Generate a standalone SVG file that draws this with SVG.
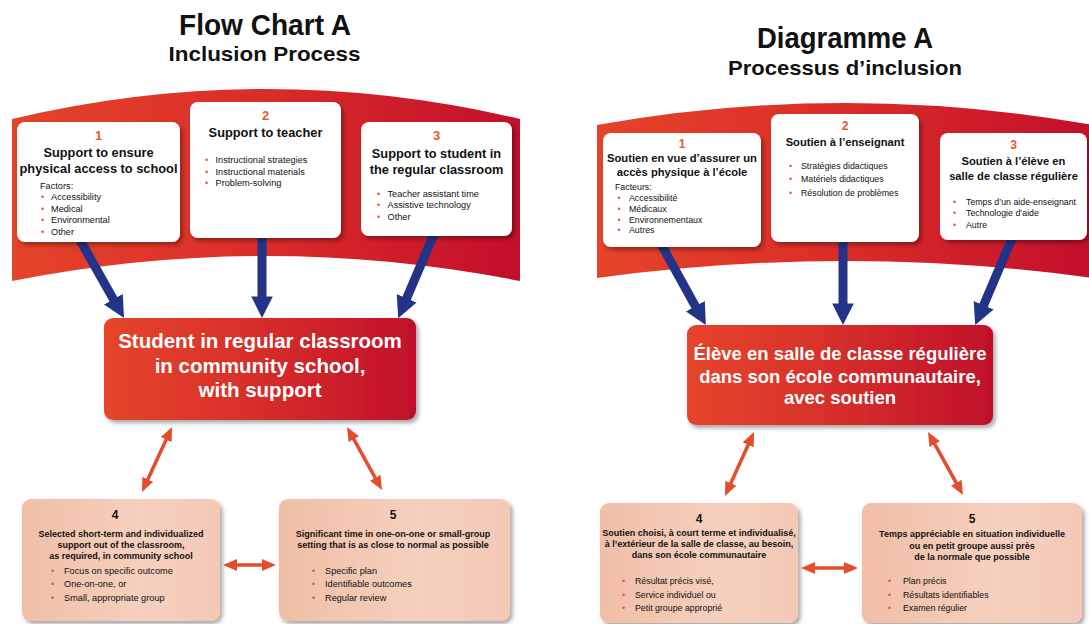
<svg xmlns="http://www.w3.org/2000/svg" width="1089" height="624" viewBox="0 0 1089 624">
<defs>
  <linearGradient id="bandGrad" x1="0" y1="0" x2="1" y2="0">
    <stop offset="0" stop-color="#e5432a"/>
    <stop offset="0.5" stop-color="#da2c28"/>
    <stop offset="1" stop-color="#c20f2b"/>
  </linearGradient>
  <linearGradient id="centerGrad" x1="0" y1="0" x2="1" y2="0">
    <stop offset="0" stop-color="#e6452b"/>
    <stop offset="0.55" stop-color="#d42b29"/>
    <stop offset="1" stop-color="#c1102c"/>
  </linearGradient>
  <linearGradient id="peachGrad" x1="0" y1="0" x2="1" y2="0">
    <stop offset="0" stop-color="#f0bea6"/>
    <stop offset="0.6" stop-color="#f6d0bf"/>
    <stop offset="1" stop-color="#f3c9b6"/>
  </linearGradient>
  <filter id="shadow" x="-10%" y="-10%" width="125%" height="130%">
    <feDropShadow dx="2.5" dy="3" stdDeviation="2" flood-color="#000" flood-opacity="0.35"/>
  </filter>
  <marker id="blueHead" viewBox="0 0 10 10" refX="4.44" refY="5" markerWidth="2.4" markerHeight="2.4" orient="auto">
    <path d="M0,0 L10,5 L0,10 z" fill="#233488"/>
  </marker>
  <marker id="orangeHead" viewBox="0 0 14 12" refX="8" refY="6" markerUnits="userSpaceOnUse" markerWidth="14" markerHeight="12" orient="auto-start-reverse">
    <path d="M0,0 L14,6 L0,12 z" fill="#e44d2b"/>
  </marker>
</defs>
<style>
  text { font-family: "Liberation Sans", Arial, sans-serif; fill: #111; }
  .title { font-weight: bold; text-anchor: middle; }
  .num { font-weight: bold; text-anchor: middle; fill: #e8562a; font-size: 13px; }
  .numr { font-weight: bold; text-anchor: middle; fill: #e8562a; font-size: 12px; }
  .hd { font-weight: bold; text-anchor: middle; font-size: 12.8px; }
  .hdr { font-weight: bold; text-anchor: middle; font-size: 11.2px; }
  .sm { font-size: 9.2px; }
  .smr { font-size: 8.8px; }
  .bl { fill: #e05a30; }
  .ctr { font-weight: bold; text-anchor: middle; fill: #fff; }
  .bn { font-weight: bold; text-anchor: middle; font-size: 12px; }
  .bh { font-weight: bold; text-anchor: middle; font-size: 9px; }
  .box { fill: #fff; filter: url(#shadow); }
  .cbox { fill: url(#centerGrad); filter: url(#shadow); }
  .pbox { fill: url(#peachGrad); filter: url(#shadow); }
  .band { fill: url(#bandGrad); }
  .blue { stroke: #233488; stroke-width: 9; fill: none; marker-end: url(#blueHead); }
  .orange { stroke: #e44d2b; stroke-width: 3.5; fill: none; marker-start: url(#orangeHead); marker-end: url(#orangeHead); }
</style>

<g id="titles">
  <text class="title" x="265" y="35" font-size="29" textLength="172" lengthAdjust="spacingAndGlyphs">Flow Chart A</text>
  <text class="title" x="264.5" y="61" font-size="21" textLength="192" lengthAdjust="spacingAndGlyphs">Inclusion Process</text>
  <text class="title" x="845" y="48" font-size="29" textLength="176" lengthAdjust="spacingAndGlyphs">Diagramme A</text>
  <text class="title" x="845" y="75" font-size="21" textLength="234" lengthAdjust="spacingAndGlyphs">Processus d’inclusion</text>
</g>

<g id="bands">
  <path class="band" d="M12,119 Q266,59 520,119 L520,281 Q266,231 12,281 Z"/>
  <path class="band" d="M597,125 Q845,81 1093,125 L1093,278 Q845,244 597,278 Z"/>
</g>

<g id="connectors">
  <line class="blue" x1="80" y1="240" x2="118.1" y2="307.6"/>
  <line class="blue" x1="262" y1="234" x2="262" y2="306"/>
  <line class="blue" x1="434" y1="234" x2="402.9" y2="307.1"/>
  <line class="blue" x1="661" y1="244" x2="700" y2="314.6"/>
  <line class="blue" x1="843" y1="238" x2="843" y2="313"/>
  <line class="blue" x1="1013" y1="236" x2="979.9" y2="314"/>
  <line class="orange" x1="169.5" y1="432.4" x2="144.5" y2="486.6"/>
  <line class="orange" x1="349.9" y1="432.2" x2="379.1" y2="484.8"/>
  <line class="orange" x1="229" y1="565" x2="270" y2="565"/>
  <line class="orange" x1="751.5" y1="437.5" x2="727.5" y2="490.5"/>
  <line class="orange" x1="930.9" y1="437.2" x2="960.1" y2="489.8"/>
  <line class="orange" x1="807" y1="568" x2="852" y2="568"/>
</g>

<g id="L1">
  <rect class="box" x="17" y="122" width="163" height="120" rx="8"/>
  <text class="num" x="98.5" y="140">1</text>
  <text class="hd" x="98.5" y="156.5">Support to ensure</text>
  <text class="hd" x="98.5" y="172.5">physical access to school</text>
  <text class="sm" x="40" y="188.5">Factors:</text>
  <text class="sm" y="200"><tspan class="bl" x="41">•</tspan><tspan x="51">Accessibility</tspan></text>
  <text class="sm" y="211.7"><tspan class="bl" x="41">•</tspan><tspan x="51">Medical</tspan></text>
  <text class="sm" y="223.4"><tspan class="bl" x="41">•</tspan><tspan x="51">Environmental</tspan></text>
  <text class="sm" y="235"><tspan class="bl" x="41">•</tspan><tspan x="51">Other</tspan></text>
</g>

<g id="L2">
  <rect class="box" x="190" y="102" width="151" height="136" rx="8"/>
  <text class="num" x="265.5" y="119.5">2</text>
  <text class="hd" x="265.5" y="136.5">Support to teacher</text>
  <text class="sm" y="163"><tspan class="bl" x="205">•</tspan><tspan x="215.5">Instructional strategies</tspan></text>
  <text class="sm" y="174.8"><tspan class="bl" x="205">•</tspan><tspan x="215.5">Instructional materials</tspan></text>
  <text class="sm" y="186"><tspan class="bl" x="205">•</tspan><tspan x="215.5">Problem-solving</tspan></text>
</g>

<g id="L3">
  <rect class="box" x="361" y="122" width="151" height="114" rx="8"/>
  <text class="num" x="436.5" y="140">3</text>
  <text class="hd" x="436.5" y="158">Support to student in</text>
  <text class="hd" x="436.5" y="174">the regular classroom</text>
  <text class="sm" y="196.5"><tspan class="bl" x="377">•</tspan><tspan x="387.5">Teacher assistant time</tspan></text>
  <text class="sm" y="208"><tspan class="bl" x="377">•</tspan><tspan x="387.5">Assistive technology</tspan></text>
  <text class="sm" y="219.5"><tspan class="bl" x="377">•</tspan><tspan x="387.5">Other</tspan></text>
</g>

<g id="Lcenter">
  <rect class="cbox" x="104" y="318" width="312" height="102" rx="9"/>
  <text class="ctr" x="260" y="348" font-size="20.5">Student in regular classroom</text>
  <text class="ctr" x="260" y="372.5" font-size="20.5">in community school,</text>
  <text class="ctr" x="260" y="396.5" font-size="20.5">with support</text>
</g>

<g id="L4">
  <rect class="pbox" x="22" y="499" width="198" height="122" rx="9"/>
  <text class="bn" x="115" y="518.5">4</text>
  <text class="bh" x="121" y="537">Selected short-term and individualized</text>
  <text class="bh" x="121" y="548">support out of the classroom,</text>
  <text class="bh" x="121" y="559">as required, in community school</text>
  <text class="sm" y="573.5"><tspan class="bl" x="51">•</tspan><tspan x="64">Focus on specific outcome</tspan></text>
  <text class="sm" y="587"><tspan class="bl" x="51">•</tspan><tspan x="64">One-on-one, or</tspan></text>
  <text class="sm" y="600.5"><tspan class="bl" x="51">•</tspan><tspan x="64">Small, appropriate group</tspan></text>
</g>

<g id="L5">
  <rect class="pbox" x="279" y="499" width="231" height="122" rx="9"/>
  <text class="bn" x="393" y="518.5">5</text>
  <text class="bh" x="393" y="537">Significant time in one-on-one or small-group</text>
  <text class="bh" x="393" y="548">setting that is as close to normal as possible</text>
  <text class="sm" y="573.5"><tspan class="bl" x="312">•</tspan><tspan x="325">Specific plan</tspan></text>
  <text class="sm" y="587"><tspan class="bl" x="312">•</tspan><tspan x="325">Identifiable outcomes</tspan></text>
  <text class="sm" y="600.5"><tspan class="bl" x="312">•</tspan><tspan x="325">Regular review</tspan></text>
</g>

<g id="R1">
  <rect class="box" x="603" y="133" width="158" height="114" rx="8"/>
  <text class="numr" x="682" y="147.5">1</text>
  <text class="hdr" x="682" y="161.5">Soutien en vue d’assurer un</text>
  <text class="hdr" x="682" y="175.5">accès physique à l’école</text>
  <text class="smr" x="615" y="190">Facteurs:</text>
  <text class="smr" y="201"><tspan class="bl" x="617.5">•</tspan><tspan x="629">Accessibilité</tspan></text>
  <text class="smr" y="211.8"><tspan class="bl" x="617.5">•</tspan><tspan x="629">Médicaux</tspan></text>
  <text class="smr" y="222.6"><tspan class="bl" x="617.5">•</tspan><tspan x="629">Environnementaux</tspan></text>
  <text class="smr" y="233.4"><tspan class="bl" x="617.5">•</tspan><tspan x="629">Autres</tspan></text>
</g>

<g id="R2">
  <rect class="box" x="771" y="114" width="148" height="128" rx="8"/>
  <text class="numr" x="845" y="130">2</text>
  <text class="hdr" x="845" y="146">Soutien à l’enseignant</text>
  <text class="smr" y="168.8"><tspan class="bl" x="789">•</tspan><tspan x="801">Stratégies didactiques</tspan></text>
  <text class="smr" y="182.3"><tspan class="bl" x="789">•</tspan><tspan x="801">Matériels didactiques</tspan></text>
  <text class="smr" y="196"><tspan class="bl" x="789">•</tspan><tspan x="801">Résolution de problèmes</tspan></text>
</g>

<g id="R3">
  <rect class="box" x="940" y="133" width="147" height="107" rx="8"/>
  <text class="numr" x="1013.5" y="149">3</text>
  <text class="hdr" x="1013.5" y="165">Soutien à l’élève en</text>
  <text class="hdr" x="1013.5" y="180">salle de classe régulière</text>
  <text class="smr" y="205"><tspan class="bl" x="953">•</tspan><tspan x="966">Temps d’un aide-enseignant</tspan></text>
  <text class="smr" y="216.3"><tspan class="bl" x="953">•</tspan><tspan x="966">Technologie d’aide</tspan></text>
  <text class="smr" y="227.6"><tspan class="bl" x="953">•</tspan><tspan x="966">Autre</tspan></text>
</g>

<g id="Rcenter">
  <rect class="cbox" x="687" y="325" width="306" height="100" rx="9"/>
  <text class="ctr" x="840" y="360" font-size="18.5">Élève en salle de classe régulière</text>
  <text class="ctr" x="840" y="382.5" font-size="18.5">dans son école communautaire,</text>
  <text class="ctr" x="840" y="404" font-size="18.5">avec soutien</text>
</g>

<g id="R4">
  <rect class="pbox" x="600" y="503" width="198" height="120" rx="9"/>
  <text class="bn" x="699" y="522.5">4</text>
  <text class="bh" x="699" y="535.5" font-size="8.8">Soutien choisi, à court terme et individualisé,</text>
  <text class="bh" x="699" y="547" font-size="8.8">à l’extérieur de la salle de classe, au besoin,</text>
  <text class="bh" x="699" y="558" font-size="8.8">dans son école communautaire</text>
  <text class="smr" y="584"><tspan class="bl" x="622">•</tspan><tspan x="635">Résultat précis visé,</tspan></text>
  <text class="smr" y="597.5"><tspan class="bl" x="622">•</tspan><tspan x="635">Service individuel ou</tspan></text>
  <text class="smr" y="610.5"><tspan class="bl" x="622">•</tspan><tspan x="635">Petit groupe approprié</tspan></text>
</g>

<g id="R5">
  <rect class="pbox" x="862" y="503" width="220" height="120" rx="9"/>
  <text class="bn" x="972" y="522.5">5</text>
  <text class="bh" x="972" y="537" font-size="8.8">Temps appréciable en situation individuelle</text>
  <text class="bh" x="972" y="548.5" font-size="8.8">ou en petit groupe aussi près</text>
  <text class="bh" x="972" y="560" font-size="8.8">de la normale que possible</text>
  <text class="smr" y="584"><tspan class="bl" x="888">•</tspan><tspan x="903">Plan précis</tspan></text>
  <text class="smr" y="597.5"><tspan class="bl" x="888">•</tspan><tspan x="903">Résultats identifiables</tspan></text>
  <text class="smr" y="610.5"><tspan class="bl" x="888">•</tspan><tspan x="903">Examen régulier</tspan></text>
</g>
</svg>
